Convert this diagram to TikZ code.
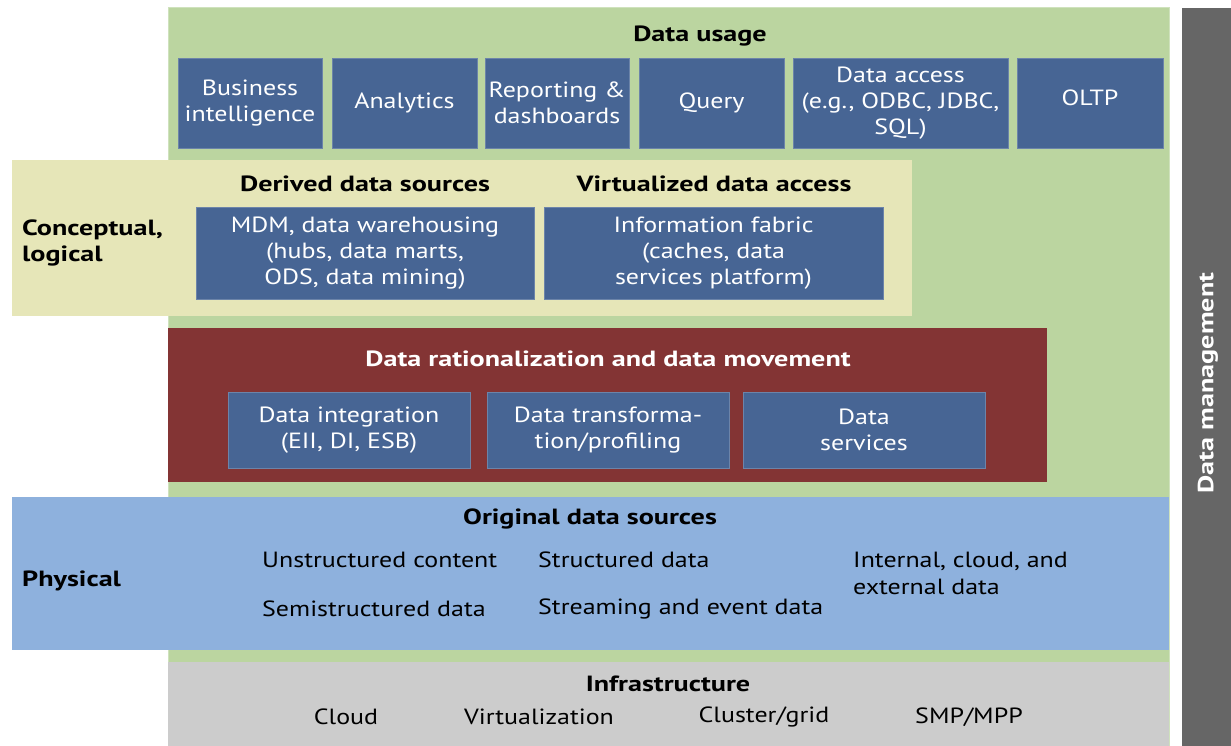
\documentclass[tikz,border=0pt]{standalone}
\usepackage{fontspec}
\setmainfont{PT Sans}[FakeStretch=1.18,BoldFeatures={FakeStretch=1.28}]
\definecolor{bggreen}{HTML}{BBD5A0}
\definecolor{bgyellow}{HTML}{E6E6B8}
\definecolor{boxblue}{HTML}{476594}
\definecolor{bandred}{HTML}{833434}
\definecolor{bandblue}{HTML}{8EB1DD}
\definecolor{infragray}{HTML}{CCCCCC}
\definecolor{darkgray}{HTML}{666666}
\begin{document}
\begin{tikzpicture}[x=1pt,y=-1pt,
  band/.style={anchor=north west,inner sep=0pt,outer sep=0pt},
  ubox/.style={fill=boxblue,draw=boxblue!80!white,line width=0.6pt,text=white,align=center,inner sep=0pt,
    font=\fontsize{22}{26}\selectfont},
  ttl/.style={font=\bfseries\fontsize{22}{26}\selectfont,inner sep=0pt},
  itm/.style={font=\fontsize{22}{27}\selectfont,inner sep=0pt,align=left},
  side/.style={font=\bfseries\fontsize{22}{26}\selectfont,inner sep=0pt,align=left,anchor=west}]
\useasboundingbox (0,0) rectangle (1231,746);
\fill[white] (0,0) rectangle (1231,746);
% main green area
\node[band,fill=bggreen,draw=bggreen!70!white,minimum width=1001pt,minimum height=739pt] (usage) at (168,7) {};
% data management bar
\node[band,fill=darkgray,minimum width=49pt,minimum height=738pt] (dm) at (1182,8) {};
\node[rotate=90,text=white,font=\bfseries\fontsize{22}{26}\selectfont] (dmt) at (1208,383) {Data management};
% Data usage
\node[ttl] (ut) at (700,36) {Data usage};
\node[ubox,minimum width=144pt,minimum height=90pt] (bi) at (250,103) {Business\\intelligence};
\node[ubox,minimum width=145pt,minimum height=90pt] (an) at (404.5,103) {Analytics};
\node[ubox,minimum width=144pt,minimum height=90pt] (rd) at (557,103) {Reporting \&\\dashboards};
\node[ubox,minimum width=145pt,minimum height=90pt] (qu) at (711.5,103) {Query};
\node[ubox,minimum width=215pt,minimum height=90pt] (da) at (900.5,103) {Data access\\(e.g., ODBC, JDBC,\\SQL)};
\node[ubox,minimum width=146pt,minimum height=90pt] (ol) at (1090,103) {};
\node[text=white,font=\fontsize{22}{26}\selectfont,inner sep=0pt] (olt) at (1090,98) {OLTP};
% conceptual band
\node[band,fill=bgyellow,minimum width=900pt,minimum height=156pt] (concept) at (12,160) {};
\node[side] (cl) at (22,243) {Conceptual,\\logical};
\node[ttl] (dt) at (365,184) {Derived data sources};
\node[ttl] (vt) at (714,184) {Virtualized data access};
\node[ubox,minimum width=338pt,minimum height=92pt] (mdm) at (365,253) {MDM, data warehousing\\(hubs, data marts,\\ODS, data mining)};
\node[ubox,minimum width=339pt,minimum height=92pt] (inf) at (713.5,253) {Information fabric\\(caches, data\\services platform)};
% rationalization band
\node[band,fill=bandred,minimum width=879pt,minimum height=154pt] (rat) at (168,328) {};
\node[ttl,text=white] (rt) at (608,359) {Data rationalization and data movement};
\node[ubox,minimum width=242pt,minimum height=76pt] (di) at (349,430) {Data integration\\(EII, DI, ESB)};
\node[ubox,minimum width=242pt,minimum height=76pt] (dtp) at (608,430) {Data transforma-\\tion/profiling};
\node[ubox,minimum width=242pt,minimum height=76pt] (ds) at (864,430) {Data\\services};
% physical band
\node[band,fill=bandblue,minimum width=1157pt,minimum height=153pt] (phys) at (12,497) {};
\node[side] (ph) at (22,581) {Physical};
\node[ttl] (ot) at (590,519) {Original data sources};
\node[itm,anchor=west] (uc) at (262,560) {Unstructured content};
\node[itm,anchor=west] (sd) at (262,609) {Semistructured data};
\node[itm,anchor=west] (st) at (538,560) {Structured data};
\node[itm,anchor=west] (se) at (538,609) {Streaming and event data};
\node[itm,anchor=west] (ie) at (853,573) {Internal, cloud, and\\external data};
% infrastructure band
\node[band,fill=infragray,minimum width=1001pt,minimum height=84pt] (infra) at (168,662) {};
\node[ttl] (it) at (668,684) {Infrastructure};
\node[itm] (cloud) at (346,717) {Cloud};
\node[itm] (virt) at (539,717) {Virtualization};
\node[itm] (clus) at (764,717) {Cluster/grid};
\node[itm] (smp) at (969,717) {SMP/MPP};
\end{tikzpicture}
\end{document}
